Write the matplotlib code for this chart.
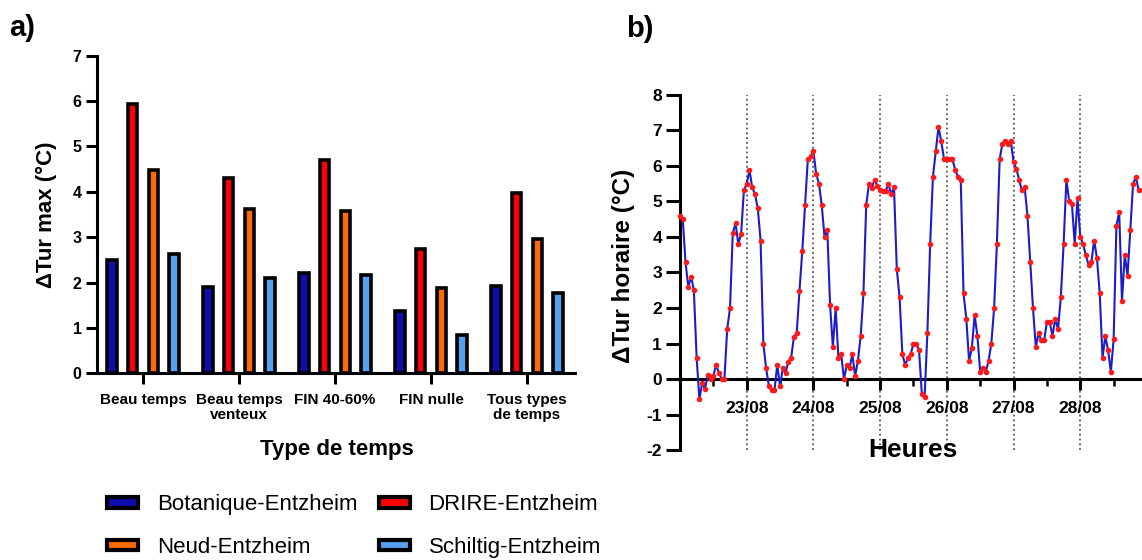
import numpy as np
import matplotlib
matplotlib.use("Agg")
import matplotlib.pyplot as plt
from matplotlib.patches import Patch

# panel a : max urban heat island per weather type
types_temps = ["Beau temps", "Beau temps\nventeux", "FIN 40-60%", "FIN nulle", "Tous types\nde temps"]
stations = ["Botanique-Entzheim", "DRIRE-Entzheim", "Neud-Entzheim", "Schiltig-Entzheim"]
botanique = [2.50, 1.90, 2.21, 1.38, 1.93]
drire = [5.93, 4.30, 4.71, 2.74, 3.97]
neud = [4.48, 3.63, 3.58, 1.89, 2.96]
schiltig = [2.63, 2.10, 2.17, 0.85, 1.76]

# panel b : hourly values, from 22/08 00h
tur_horaire = [
    4.6, 4.52, 3.29, 2.6, 2.88, 2.51, 0.6, -0.57, -0.1, -0.28, 0.11, 0.0,
    0.08, 0.4, 0.18, 0.0, 0.0, 1.41, 1.99, 4.1, 4.39, 3.8, 4.09, 5.31,
    5.5, 5.88, 5.4, 5.2, 4.81, 3.9, 1.0, 0.3, -0.2, -0.32, -0.32, 0.4,
    -0.2, 0.3, 0.18, 0.49, 0.6, 1.19, 1.29, 2.49, 3.6, 4.9, 6.19, 6.27,
    6.41, 5.78, 5.5, 4.9, 4.0, 4.2, 2.09, 0.9, 2.0, 0.6, 0.7, 0.0,
    0.39, 0.3, 0.7, 0.08, 0.51, 1.2, 2.41, 4.9, 5.5, 5.39, 5.61, 5.45,
    5.31, 5.3, 5.3, 5.5, 5.2, 5.4, 3.1, 2.3, 0.7, 0.4, 0.58, 0.7,
    1.0, 1.0, 0.81, -0.41, -0.51, 1.29, 3.8, 5.7, 6.41, 7.1, 6.69, 6.19,
    6.19, 6.19, 6.19, 5.9, 5.69, 5.61, 2.41, 1.7, 0.51, 0.88, 1.8, 1.21,
    0.2, 0.32, 0.2, 0.51, 1.0, 1.99, 3.8, 6.19, 6.63, 6.71, 6.62, 6.71,
    6.11, 5.92, 5.61, 5.31, 5.4, 4.6, 3.29, 1.99, 0.9, 1.29, 1.09, 1.09,
    1.61, 1.61, 1.21, 1.7, 1.4, 2.3, 3.8, 5.61, 5.01, 4.92, 3.8, 5.1,
    4.01, 3.8, 3.49, 3.21, 3.3, 3.9, 3.4, 2.41, 0.6, 1.21, 0.81, 0.2,
    1.12, 4.32, 4.7, 2.2, 3.5, 2.91, 4.2, 5.5, 5.69, 5.31,
]
jours = ["23/08", "24/08", "25/08", "26/08", "27/08", "28/08"]

couleurs = ["#0c0cb0", "#ff0000", "#ff6a00", "#55a0f0"]

if __name__ == '__main__':
    plt.rcParams['font.family'] = ['Liberation Sans', 'DejaVu Sans']
    plt.rcParams['axes.unicode_minus'] = False
    fig = plt.figure(figsize=(11.42, 5.6), dpi=100)

    # ---------- a)
    ax = fig.add_axes([0.0849, 0.3334, 0.4186, 0.5671])
    series = [botanique, drire, neud, schiltig]
    x = np.arange(len(types_temps))
    pas = 0.215
    for i, vals in enumerate(series):
        ax.bar(x + (i - 1.5) * pas, vals, width=0.098, color=couleurs[i],
               edgecolor='black', linewidth=2.6, zorder=3)
    ax.set_xlim(-0.48, 4.5)
    ax.set_ylim(0, 7)
    ax.set_xticks(x)
    ax.set_xticklabels(types_temps, fontsize=11, fontweight='bold', linespacing=1.15)
    ax.set_yticks(range(8))
    ax.set_yticklabels([str(v) for v in range(8)], fontsize=11.5, fontweight='bold')
    for s in ['top', 'right']:
        ax.spines[s].set_visible(False)
    for s in ['left', 'bottom']:
        ax.spines[s].set_linewidth(2.2)
    ax.tick_params(axis='y', width=2.2, length=8, pad=3)
    ax.tick_params(axis='x', width=2.2, length=8, pad=6)
    ax.set_ylabel("\u0394Tur max (\u00b0C)", fontsize=16, fontweight='bold')
    ax.yaxis.set_label_coords(-0.084, 0.5)
    ax.set_xlabel("Type de temps", fontsize=16, fontweight='bold')
    ax.xaxis.set_label_coords(0.502, -0.208)

    handles = [Patch(facecolor=couleurs[k], edgecolor='black', linewidth=3) for k in [0, 2, 1, 3]]
    labels = [stations[k] for k in [0, 2, 1, 3]]
    fig.legend(handles, labels, ncol=2, loc='upper left', bbox_to_anchor=(0.0937, 0.117),
               frameon=False, fontsize=16, handlelength=1.4, handleheight=0.32,
               handletextpad=0.85, columnspacing=0.95, labelspacing=0.98,
               borderpad=0, borderaxespad=0)

    # ---------- b)
    bx = fig.add_axes([0.5954, 0.1964, 0.4046, 0.634])
    # spine position first : it resets the ticks
    bx.spines['top'].set_visible(False)
    bx.spines['right'].set_visible(False)
    bx.spines['bottom'].set_position(('data', 0))
    bx.spines['left'].set_linewidth(2.2)
    bx.spines['bottom'].set_linewidth(2.2)

    heures = np.arange(len(tur_horaire))
    jours_h = 24 * np.arange(1, len(jours) + 1)
    for h in jours_h:
        bx.axvline(h, color='#555555', linestyle=':', linewidth=1.3, zorder=1)
    bx.plot(heures, tur_horaire, color='#1c1cc8', linewidth=1.5, marker='o',
            markersize=3, markerfacecolor='#ff1a1a', markeredgecolor='#ff1a1a',
            zorder=3, clip_on=False)
    bx.set_xlim(0, 166.2)
    bx.set_ylim(-2, 8)
    bx.set_yticks(range(-2, 9))
    bx.set_yticklabels([str(v) for v in range(-2, 9)], fontsize=12.5, fontweight='bold')
    bx.set_xticks(list(jours_h - 12) + [jours_h[-1] + 12], minor=True)
    bx.set_xticks(jours_h)
    bx.set_xticklabels(jours, fontsize=12.5, fontweight='bold')
    bx.tick_params(axis='y', width=2.2, length=10, pad=3)
    bx.tick_params(axis='x', which='major', width=2.2, length=8, pad=8)
    bx.tick_params(axis='x', which='minor', width=1.8, length=5)
    bx.set_ylabel("\u0394Tur horaire (\u00b0C)", fontsize=17.5, fontweight='bold')
    bx.yaxis.set_label_coords(-0.097, 0.52)
    bx.text(0.504, 0.0, "Heures", transform=bx.transAxes, ha='center', va='center',
            fontsize=19, fontweight='bold')

    fig.text(0.008, 0.95, "a)", fontsize=21, fontweight='bold', va='center')
    fig.text(0.548, 0.948, "b)", fontsize=21, fontweight='bold', va='center')

    plt.savefig("out.png", dpi=100)
